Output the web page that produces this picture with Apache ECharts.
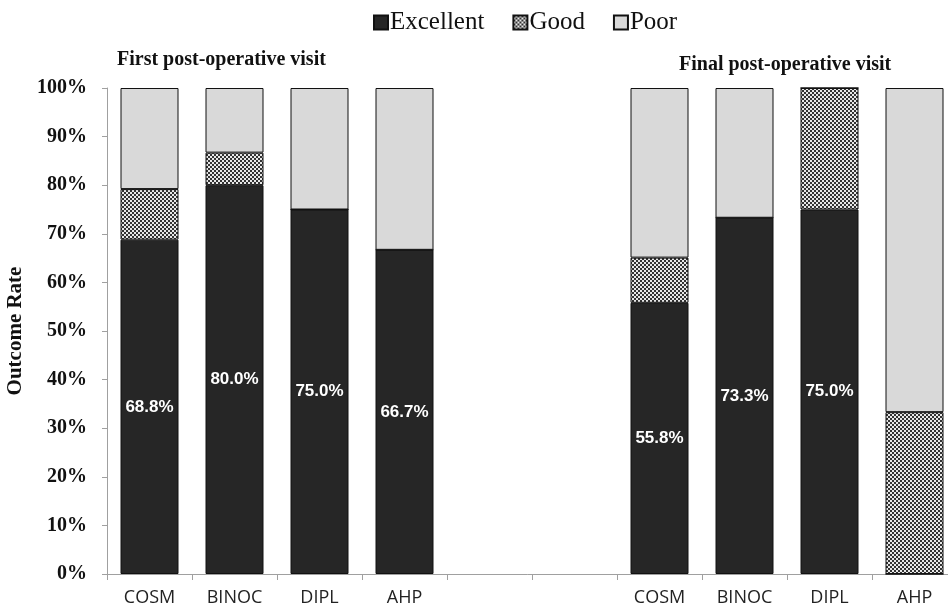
<!DOCTYPE html>
<html><head><meta charset="utf-8">
<script src="https://cdn.jsdelivr.net/npm/echarts@6/dist/echarts.min.js"></script>
<style>html,body{margin:0;padding:0;background:#fff;overflow:hidden}#c{width:948px;height:610px}</style>
</head><body><div id="c"></div>
<script>
const categories = ['COSM','BINOC','DIPL','AHP','','','COSM','BINOC','DIPL','AHP'];
const excellent = [68.8, 80.0, 75.0, 66.7, null, null, 55.8, 73.3, 75.0, 0];
const good      = [10.4, 6.7, 0, 0, null, null, 9.3, 0, 25.0, 33.3];
const poor      = [20.8, 13.3, 25.0, 33.3, null, null, 34.9, 26.7, 0, 66.7];
const yTicks = [0,10,20,30,40,50,60,70,80,90,100];

const pc = document.createElement('canvas');
pc.width = 4; pc.height = 4;
const g = pc.getContext('2d');
g.fillStyle = '#e8e8e8'; g.fillRect(0,0,4,4);
g.fillStyle = '#333333';
g.fillRect(0,0,2,2); g.fillRect(2,2,2,2);
const goodFill = {image: pc, repeat: 'repeat'};

const serif = '"Liberation Serif","DejaVu Serif",serif';
const chart = echarts.init(document.getElementById('c'));
const lbl = {show: true, position: 'inside', color: '#fff', fontWeight: 'bold', fontSize: 17,
  fontFamily: '"Liberation Sans Narrow","Liberation Sans",sans-serif',
  formatter: p => (p.value ? p.value.toFixed(1) + '%' : '')};
chart.setOption({
  animation: false,
  legend: {
    top: 5, left: 368, itemWidth: 14, itemHeight: 14, itemGap: 28, icon: 'rect',
    textStyle: {fontFamily: serif, fontSize: 25, color: '#111', padding: [0,0,0,-3]},
    data: ['Excellent','Good','Poor']
  },
  title: [
    {text: 'First post-operative visit', left: 112, top: 45,
     textStyle: {fontFamily: serif, fontSize: 20, fontWeight: 'bold', color: '#111'}},
    {text: 'Final post-operative visit', left: 674, top: 50,
     textStyle: {fontFamily: serif, fontSize: 20, fontWeight: 'bold', color: '#111'}}
  ],
  grid: {left: 107, top: 88, bottom: 36, width: 850, containLabel: false, outerBoundsMode: 'none'},
  xAxis: {
    type: 'category', data: categories,
    axisLine: {lineStyle: {color: '#a0a0a0'}},
    axisTick: {show: true, length: 6, lineStyle: {color: '#a0a0a0'}, interval: 0},
    axisLabel: {interval: 0, margin: 15, color: '#222', fontSize: 18,
      fontFamily: '"Open Sans","Liberation Sans",sans-serif'}
  },
  yAxis: {
    type: 'value', min: 0, max: 100, interval: 10,
    name: 'Outcome Rate', nameLocation: 'middle', nameGap: 78, nameRotate: 90,
    nameTextStyle: {fontFamily: serif, fontSize: 21, fontWeight: 'bold', color: '#111'},
    splitLine: {show: false},
    axisLine: {show: true, lineStyle: {color: '#a0a0a0'}},
    axisTick: {show: true, length: 5, lineStyle: {color: '#a0a0a0'}},
    axisLabel: {formatter: v => yTicks.includes(v) ? v + '%' : '', margin: 20,
      fontFamily: serif, fontSize: 20, fontWeight: 'bold', color: '#111'}
  },
  series: [
    {name: 'Excellent', type: 'bar', stack: 't', data: excellent, barWidth: 58,
     itemStyle: {color: '#262626', borderColor: '#111', borderWidth: 1}, label: lbl},
    {name: 'Good', type: 'bar', stack: 't', data: good,
     itemStyle: {color: goodFill, borderColor: '#111', borderWidth: 1}},
    {name: 'Poor', type: 'bar', stack: 't', data: poor,
     itemStyle: {color: '#d9d9d9', borderColor: '#111', borderWidth: 1}}
  ]
});
</script></body></html>
